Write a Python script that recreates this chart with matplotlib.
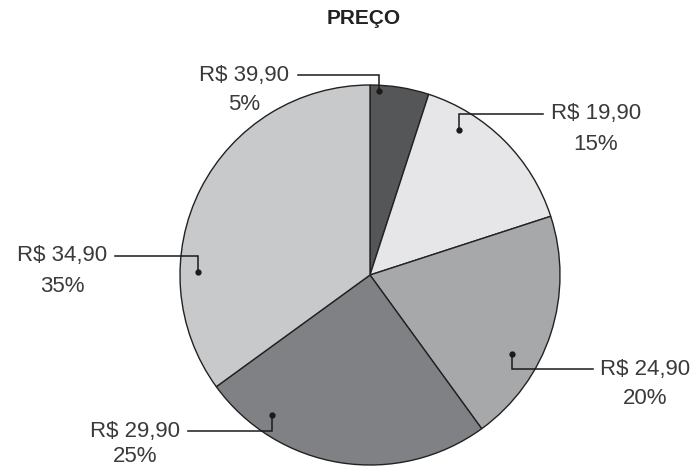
import matplotlib
matplotlib.use("Agg")
import matplotlib.pyplot as plt

# ---- data ----
labels = ["R$ 39,90", "R$ 19,90", "R$ 24,90", "R$ 29,90", "R$ 34,90"]
values = [5, 15, 20, 25, 35]
colors = ["#555658", "#e6e6e8", "#a7a8aa", "#808184", "#c8c9cb"]
title = "PREÇO"

# ---- layout (pixel coords, y measured from top) ----
W, H = 697, 468
center = (370, 275)
radius = 190
# dot position, elbow y, line end x, text center x, percent-label offset
annot = [
    ((379, 91), 75, 298, 244, 30),
    ((459, 130), 114, 543, 596, 30),
    ((512, 354), 369, 593, 645, 30),
    ((272, 415), 431, 188, 135, 26),
    ((198, 272), 256, 115, 62, 30),
]

plt.rcParams['font.family'] = ['Liberation Sans', 'DejaVu Sans']
fig = plt.figure(figsize=(W / 100, H / 100), dpi=100)
ax = fig.add_axes([0, 0, 1, 1])

def fy(y):
    return H - y

ax.pie(values, colors=colors, startangle=90, counterclock=False,
       center=(center[0], fy(center[1])), radius=radius,
       wedgeprops=dict(edgecolor="#222222", linewidth=1.0), frame=True)
ax.set_xlim(0, W)
ax.set_ylim(0, H)
ax.set_aspect('equal')
ax.axis('off')

for lab, val, (dot, ey, lx, tx, off) in zip(labels, values, annot):
    ax.plot([dot[0], dot[0], lx], [fy(dot[1]), fy(ey), fy(ey)],
            color="#1a1a1a", lw=1.1, solid_joinstyle='miter')
    ax.plot(dot[0], fy(dot[1]), 'o', color="#1a1a1a", ms=3.5)
    ax.text(tx, fy(ey), lab, ha='center', va='center', fontsize=16,
            color="#3a3a3a")
    ax.text(tx, fy(ey + off), f"{val}%", ha='center', va='center', fontsize=16,
            color="#3a3a3a")

ax.text(364, fy(19), title, ha='center', va='center', fontsize=15,
        fontweight='bold', color="#222222")

fig.savefig("out.png", dpi=100)
